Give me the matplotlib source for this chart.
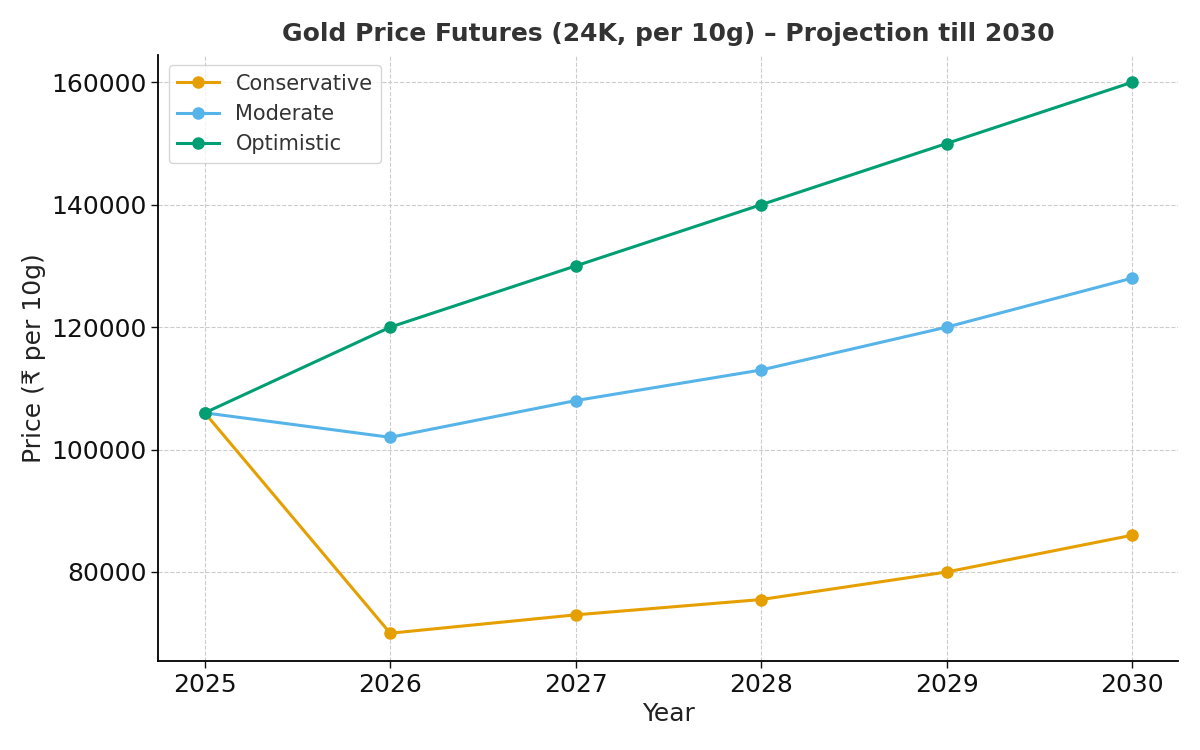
import numpy as np
import matplotlib.pyplot as plt

# projected gold prices, 24K per 10g (INR)
years = [2025, 2026, 2027, 2028, 2029, 2030]
conservative = [106000, 70000, 73000, 75500, 80000, 86000]
moderate = [106000, 102000, 108000, 113000, 120000, 128000]
optimistic = [106000, 120000, 130000, 140000, 150000, 160000]

plt.rcParams['font.family'] = ['DejaVu Sans']

fig, ax = plt.subplots(figsize=(12, 7.5), dpi=100)
fig.subplots_adjust(left=0.132, right=0.982, top=0.927, bottom=0.119)

ax.plot(years, conservative, marker='o', color='#E69F00', lw=2.2, ms=8, label='Conservative')
ax.plot(years, moderate, marker='o', color='#56B4E9', lw=2.2, ms=8, label='Moderate')
ax.plot(years, optimistic, marker='o', color='#009E73', lw=2.2, ms=8, label='Optimistic')

ax.set_title('Gold Price Futures (24K, per 10g) – Projection till 2030',
             fontsize=18, fontweight='bold', color='#333333', pad=10)
ax.set_xlabel('Year', fontsize=18, color='#222222')
ax.set_ylabel('Price (₹ per 10g)', fontsize=18, color='#222222')
ax.set_xticks(years)
ax.tick_params(labelsize=18, length=5, width=1, colors='#111111')
ax.grid(True, linestyle='--', color='#cccccc', linewidth=0.8)
ax.spines['top'].set_visible(False)
ax.spines['right'].set_visible(False)
ax.spines['left'].set_linewidth(1.3)
ax.spines['bottom'].set_linewidth(1.3)

leg = ax.legend(loc='upper left', fontsize=15, frameon=True)
leg.get_frame().set_edgecolor('#cccccc')
for t in leg.get_texts():
    t.set_color('#333333')

fig.savefig('out.png')
